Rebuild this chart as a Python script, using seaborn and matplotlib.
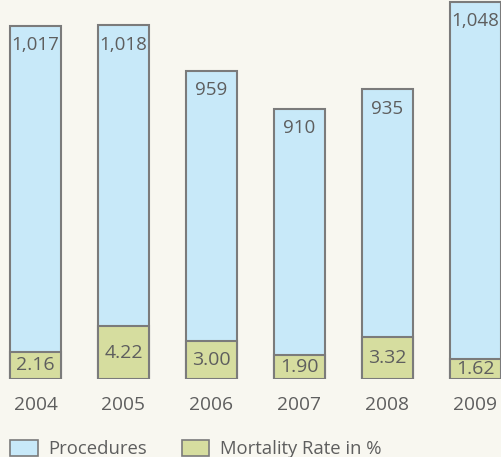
import matplotlib
matplotlib.use("Agg")
import matplotlib.pyplot as plt
import seaborn as sns
import pandas as pd
from matplotlib.patches import Patch

years = ["2004", "2005", "2006", "2007", "2008", "2009"]
procedures = [1017, 1018, 959, 910, 935, 1048]
procedure_labels = ["1,017", "1,018", "959", "910", "935", "1,048"]
mortality = [2.16, 4.22, 3.00, 1.90, 3.32, 1.62]
legend_labels = ["Procedures", "Mortality Rate in %"]

BG = "#f8f7f0"
BLUE = "#c8e9f9"
OLIVE = "#d6dd9f"
EDGE = "#7b7b7b"
TXT = "#5e5e5e"
FONT = "Open Sans"

sns.set_theme(style="white")
plt.rcParams["font.family"] = [FONT, "DejaVu Sans"]

df = pd.DataFrame({"year": years, "procedures": procedures, "mortality": mortality})

fig = plt.figure(figsize=(5.02, 4.57), dpi=100, facecolor=BG)
ax = fig.add_axes([0, 78 / 457, 1, 379 / 457])
ax.set_facecolor(BG)

sns.barplot(data=df, x="year", y="procedures", ax=ax, color=BLUE, saturation=1,
            edgecolor=EDGE, linewidth=1.5, width=0.59)
ax.set_ylim(561.3, 1050.5)

ax2 = ax.twinx()
sns.barplot(data=df, x="year", y="mortality", ax=ax2, color=OLIVE, saturation=1,
            edgecolor=EDGE, linewidth=1.5, width=0.59)
ax2.set_ylim(0, 379 / 12.54)

for a in (ax, ax2):
    a.set_xlim(-35.5 / 88, 5 + 26.5 / 88)
    a.set_xlabel("")
    a.set_ylabel("")
    a.set_yticks([])
    for s in a.spines.values():
        s.set_visible(False)

for i, (v, lab) in enumerate(zip(procedures, procedure_labels)):
    ax.annotate(lab, xy=(i, v), xytext=(0, -7.5), textcoords="offset points",
                ha="center", va="top", fontsize=13.5, color=TXT)

ax2.bar_label(ax2.containers[0], labels=[f"{m:.2f}" for m in mortality],
              label_type="center", fontsize=14, color=TXT)

ax.tick_params(axis="x", length=0, pad=12.5, labelsize=13.8, labelcolor=TXT)
ax2.tick_params(axis="x", length=0)

handles = [Patch(facecolor=BLUE, edgecolor=EDGE, linewidth=1.2),
           Patch(facecolor=OLIVE, edgecolor=EDGE, linewidth=1.2)]
leg = fig.legend(handles, legend_labels, loc="center left",
                 bbox_to_anchor=(10 / 502, 1 - 449 / 457), ncol=2, frameon=False,
                 borderpad=0, borderaxespad=0, handlelength=1.5, handleheight=1.0,
                 handletextpad=0.55, columnspacing=1.9, fontsize=13.3)
for t in leg.get_texts():
    t.set_color(TXT)

fig.savefig("out.png", dpi=100, facecolor=BG)
